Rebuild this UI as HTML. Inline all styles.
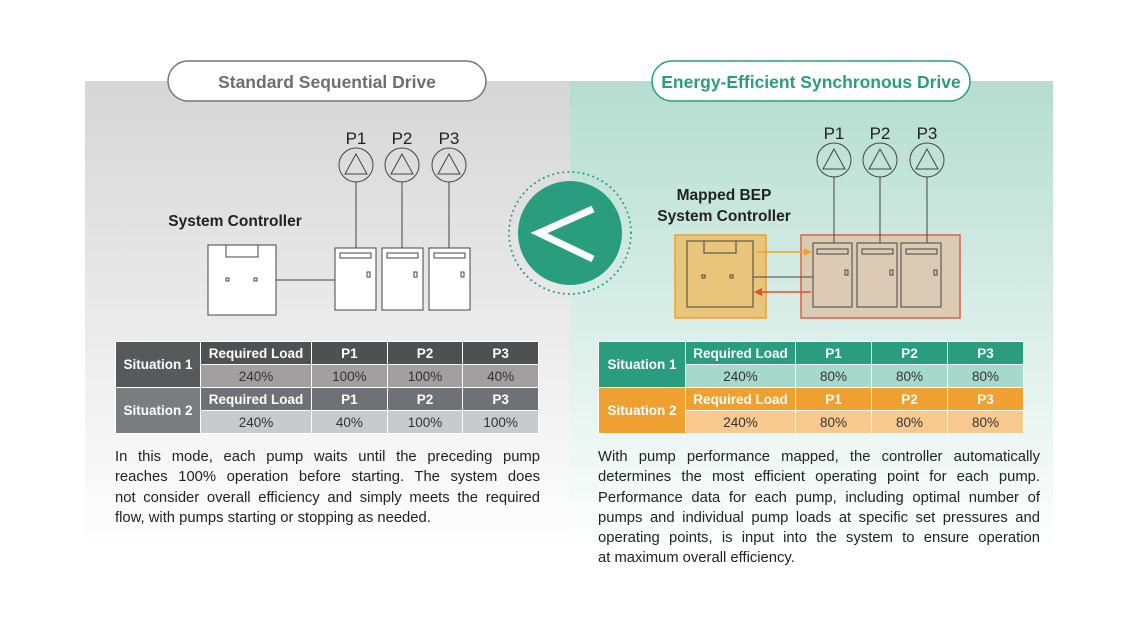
<!DOCTYPE html>
<html><head><meta charset="utf-8">
<style>
html,body{margin:0;padding:0;background:#fff;}
body{width:1140px;height:641px;position:relative;overflow:hidden;font-family:"Liberation Sans",sans-serif;}
svg{position:absolute;left:0;top:0;}
.para{position:absolute;font-size:14.8px;color:#222;line-height:20.3px;}
.para div{text-align:justify;text-align-last:justify;white-space:nowrap;}
.para div.l{text-align-last:left;}
table{position:absolute;border-collapse:collapse;font-family:"Liberation Sans",sans-serif;}
td{border:1px solid #fff;text-align:center;font-size:13.5px;padding:0;height:22px;}
td.h{font-weight:bold;color:#fff;}
</style></head><body>
<svg width="1140" height="641" viewBox="0 0 1140 641">
<defs>
<linearGradient id="gl" x1="0" y1="0" x2="0" y2="1">
<stop offset="0" stop-color="#d6d6d7"/><stop offset="0.6" stop-color="#eeeeee"/><stop offset="1" stop-color="#ffffff"/>
</linearGradient>
<linearGradient id="gr" x1="0" y1="0" x2="0" y2="1">
<stop offset="0" stop-color="#b5ddd0"/><stop offset="0.6" stop-color="#e0f1ec"/><stop offset="1" stop-color="#ffffff"/>
</linearGradient>
</defs>
<rect x="85" y="81" width="485" height="470" fill="url(#gl)"/>
<rect x="570" y="81" width="483" height="470" fill="url(#gr)"/>
<rect x="168" y="61" width="318" height="40" rx="20" fill="#fff" stroke="#777" stroke-width="1.5"/>
<text x="327" y="88" text-anchor="middle" font-size="17.5" font-weight="bold" fill="#6d6e71">Standard Sequential Drive</text>
<rect x="652" y="61" width="318" height="40" rx="20" fill="#fff" stroke="#2a9d7f" stroke-width="1.5"/>
<text x="811" y="88" text-anchor="middle" font-size="17.5" font-weight="bold" fill="#2a9d7f">Energy-Efficient Synchronous Drive</text>

<g fill="none" stroke="#444" stroke-width="1">
<circle cx="356" cy="165" r="17"/><circle cx="402" cy="165" r="17"/><circle cx="449" cy="165" r="17"/>
<path d="M356 154 L345 174 L367 174Z M402 154 L391 174 L413 174Z M449 154 L438 174 L460 174Z"/>
<path d="M356 182V248 M402 182V248 M449 182V248 M276 280H335"/>
<rect x="208" y="245" width="68" height="70" fill="#fff"/>
<rect x="226" y="245" width="32" height="12"/>
<rect x="226" y="278" width="3" height="3"/><rect x="254" y="278" width="3" height="3"/>
<rect x="335" y="248" width="41" height="62" fill="#fff"/><rect x="382" y="248" width="41" height="62" fill="#fff"/><rect x="429" y="248" width="41" height="62" fill="#fff"/>
<rect x="340" y="253" width="31" height="5"/><rect x="387" y="253" width="31" height="5"/><rect x="434" y="253" width="31" height="5"/>
<rect x="367" y="272" width="3" height="5"/><rect x="414" y="272" width="3" height="5"/><rect x="461" y="272" width="3" height="5"/>
</g>
<text x="356" y="144" text-anchor="middle" font-size="17" fill="#222">P1</text>
<text x="402" y="144" text-anchor="middle" font-size="17" fill="#222">P2</text>
<text x="449" y="144" text-anchor="middle" font-size="17" fill="#222">P3</text>
<text x="235" y="226" text-anchor="middle" font-size="15.5" font-weight="bold" fill="#222">System Controller</text>

<circle cx="570" cy="233" r="61" fill="none" stroke="#2a9d7f" stroke-width="2" stroke-dasharray="0.1 5" stroke-linecap="round"/>
<circle cx="570" cy="233" r="52" fill="#2a9d7f"/>
<path d="M593 209 L539 233 L593 259" fill="none" stroke="#fff" stroke-width="7"/>

<rect x="675" y="235" width="91" height="83" fill="#e8c57a" stroke="#f0a030" stroke-width="1.5"/>
<rect x="801" y="235" width="159" height="83" fill="#dccbb4" stroke="#e06040" stroke-width="1.5"/>
<g fill="none" stroke="#444" stroke-width="1">
<circle cx="834" cy="160" r="17"/><circle cx="880" cy="160" r="17"/><circle cx="927" cy="160" r="17"/>
<path d="M834 149 L823 169 L845 169Z M880 149 L869 169 L891 169Z M927 149 L916 169 L938 169Z"/>
<path d="M834 177V243 M880 177V243 M927 177V243 M753 277H813"/>
<rect x="687" y="241" width="66" height="66"/>
<rect x="704" y="241" width="32" height="12"/>
<rect x="702" y="275" width="3" height="3"/><rect x="730" y="275" width="3" height="3"/>
<rect x="813" y="243" width="39" height="64"/><rect x="857" y="243" width="40" height="64"/><rect x="901" y="243" width="40" height="64"/>
<rect x="817" y="249" width="31" height="5"/><rect x="862" y="249" width="31" height="5"/><rect x="906" y="249" width="31" height="5"/>
<rect x="845" y="270" width="3" height="5"/><rect x="890" y="270" width="3" height="5"/><rect x="934" y="270" width="3" height="5"/>
</g>
<path d="M757 252H806" stroke="#f0a030" stroke-width="1.5"/><path d="M812 252 L804 248 L804 256Z" fill="#f0a030"/>
<path d="M762 292H811" stroke="#e05030" stroke-width="1.5"/><path d="M754 292 L762 288 L762 296Z" fill="#e05030"/>
<text x="834" y="139" text-anchor="middle" font-size="17" fill="#222">P1</text>
<text x="880" y="139" text-anchor="middle" font-size="17" fill="#222">P2</text>
<text x="927" y="139" text-anchor="middle" font-size="17" fill="#222">P3</text>
<text x="724" y="200" text-anchor="middle" font-size="15.5" font-weight="bold" fill="#222">Mapped BEP</text>
<text x="724" y="221" text-anchor="middle" font-size="15.5" font-weight="bold" fill="#222">System Controller</text>
</svg>

<table style="left:115px;top:341px;width:424px;">
<tr><td class="h" rowspan="2" style="width:84px;background:#58595b">Situation 1</td><td class="h" style="width:110px;background:#4f5052">Required Load</td><td class="h" style="background:#4f5052">P1</td><td class="h" style="background:#4f5052">P2</td><td class="h" style="background:#4f5052">P3</td></tr>
<tr><td style="background:#a19f9f;color:#333">240%</td><td style="background:#a19f9f;color:#333">100%</td><td style="background:#a19f9f;color:#333">100%</td><td style="background:#a19f9f;color:#333">40%</td></tr>
<tr><td class="h" rowspan="2" style="background:#7b7c80">Situation 2</td><td class="h" style="background:#6f7176">Required Load</td><td class="h" style="background:#6f7176">P1</td><td class="h" style="background:#6f7176">P2</td><td class="h" style="background:#6f7176">P3</td></tr>
<tr><td style="background:#c9cacc;color:#333">240%</td><td style="background:#c9cacc;color:#333">40%</td><td style="background:#c9cacc;color:#333">100%</td><td style="background:#c9cacc;color:#333">100%</td></tr>
</table>

<table style="left:598px;top:341px;width:426px;">
<tr><td class="h" rowspan="2" style="width:86px;background:#2a9d7f">Situation 1</td><td class="h" style="width:109px;background:#2a9d7f">Required Load</td><td class="h" style="background:#2a9d7f">P1</td><td class="h" style="background:#2a9d7f">P2</td><td class="h" style="background:#2a9d7f">P3</td></tr>
<tr><td style="background:#a6d9cb;color:#333">240%</td><td style="background:#a6d9cb;color:#333">80%</td><td style="background:#a6d9cb;color:#333">80%</td><td style="background:#a6d9cb;color:#333">80%</td></tr>
<tr><td class="h" rowspan="2" style="background:#f0a030">Situation 2</td><td class="h" style="background:#f0a030">Required Load</td><td class="h" style="background:#f0a030">P1</td><td class="h" style="background:#f0a030">P2</td><td class="h" style="background:#f0a030">P3</td></tr>
<tr><td style="background:#f8c98f;color:#333">240%</td><td style="background:#f8c98f;color:#333">80%</td><td style="background:#f8c98f;color:#333">80%</td><td style="background:#f8c98f;color:#333">80%</td></tr>
</table>

<div class="para" style="left:115px;top:447px;width:425px;">
<div>In this mode, each pump waits until the preceding pump</div>
<div>reaches 100% operation before starting. The system does</div>
<div>not consider overall efficiency and simply meets the required</div>
<div class="l">flow, with pumps starting or stopping as needed.</div>
</div>

<div class="para" style="left:598px;top:447px;width:442px;">
<div>With pump performance mapped, the controller automatically</div>
<div>determines the most efficient operating point for each pump.</div>
<div>Performance data for each pump, including optimal number of</div>
<div>pumps and individual pump loads at specific set pressures and</div>
<div>operating points, is input into the system to ensure operation</div>
<div class="l">at maximum overall efficiency.</div>
</div>
</body></html>
